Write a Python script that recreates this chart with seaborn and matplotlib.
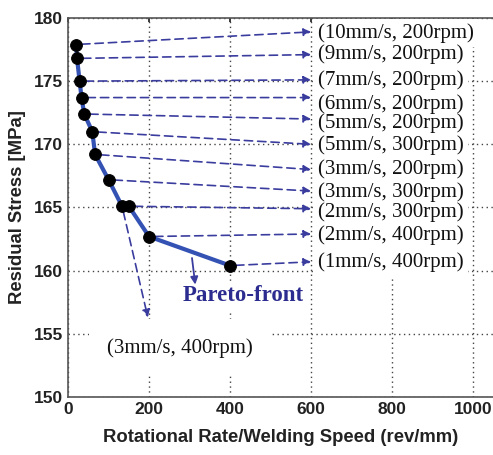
import matplotlib
matplotlib.use('Agg')
import matplotlib.pyplot as plt
import seaborn as sns
import pandas as pd

# ---- data ----
ratio = [20.0, 22.2, 28.6, 33.3, 40.0, 60.0, 66.7, 100.0, 133.3, 150.0, 200.0, 400.0]
stress = [177.9, 176.8, 175.0, 173.7, 172.4, 171.0, 169.2, 167.2, 165.1, 165.1, 162.7, 160.4]
labels = ['(10mm/s, 200rpm)', '(9mm/s, 200rpm)', '(7mm/s, 200rpm)', '(6mm/s, 200rpm)',
          '(5mm/s, 200rpm)', '(5mm/s, 300rpm)', '(3mm/s, 200rpm)', '(3mm/s, 300rpm)',
          '(3mm/s, 400rpm)', '(2mm/s, 300rpm)', '(2mm/s, 400rpm)', '(1mm/s, 400rpm)']
arrow_end_x = [600, 600, 600, 600, 600, 600, 600, 600, 197, 600, 600, 600]
arrow_end_y = [178.9, 177.1, 175.1, 173.7, 172.0, 170.0, 168.0, 166.3, 156.3, 164.9, 162.9, 160.7]
label_x = [618, 618, 618, 618, 618, 618, 618, 618, 277, 618, 618, 618]
label_y = [178.8, 177.1, 175.1, 173.2, 171.7, 169.9, 168.0, 166.2, 153.9, 164.6, 162.8, 160.7]
pareto_text = 'Pareto-front'
pareto_xy = (432, 158.0)
pareto_arrow = [(306, 161.0), (314, 158.9)]
xticks = [0, 200, 400, 600, 800, 1000]
yticks = [150, 155, 160, 165, 170, 175, 180]

df = pd.DataFrame({'ratio': ratio, 'stress': stress})

sns.set_theme(style='white')
plt.rcParams['font.family'] = ['Liberation Sans', 'DejaVu Sans']

fig = plt.figure(figsize=(4.93, 4.55), dpi=100)
ax = fig.add_axes([0.138, 0.1275, 0.862, 0.833])

line_c = '#3452b4'
arr_c = '#3a3c9e'

sns.lineplot(data=df, x='ratio', y='stress', ax=ax, color=line_c, lw=3.0,
             sort=True, zorder=5, estimator=None)
sns.scatterplot(data=df, x='ratio', y='stress', ax=ax, color='black', s=72,
                edgecolor='black', zorder=6)

serif = ['Liberation Serif', 'DejaVu Serif']
for i in range(len(ratio)):
    ax.annotate('', xy=(arrow_end_x[i], arrow_end_y[i]), xytext=(ratio[i], stress[i]),
                arrowprops=dict(arrowstyle='-|>', color=arr_c, lw=1.2,
                                ls=(0, (5, 3)), shrinkA=4, shrinkB=0,
                                mutation_scale=11),
                zorder=4)
    ha = 'left' if arrow_end_x[i] == 600 else 'center'
    pad = 0.2 if ha == 'left' else 0.9
    # white background box drawn underneath all label texts
    ax.text(label_x[i], label_y[i], labels[i], ha=ha, va='center',
            fontsize=15, family=serif, color=(0, 0, 0, 0), zorder=2.5,
            bbox=dict(facecolor='white', edgecolor='none', boxstyle=f'square,pad={pad}'))
    ax.text(label_x[i], label_y[i], labels[i], ha=ha, va='center',
            fontsize=15, family=serif, color='#111111', zorder=3)

ax.annotate('', xy=pareto_arrow[1], xytext=pareto_arrow[0],
            arrowprops=dict(arrowstyle='-|>', color=arr_c, lw=1.3,
                            shrinkA=0, shrinkB=0, mutation_scale=11), zorder=4)
ax.text(pareto_xy[0], pareto_xy[1], pareto_text, ha='center', va='center',
        fontsize=16.5, family=serif, color='#2c2c90', fontweight='bold', zorder=3,
        bbox=dict(facecolor='white', edgecolor='none', boxstyle='square,pad=0.2'))

ax.set_xlim(0, 1049)
ax.set_ylim(150, 180)
ax.set_xticks(xticks)
ax.set_yticks(yticks)
ax.grid(True, linestyle=(0, (1, 2.5)), color='#444444', lw=1.0)
ax.set_axisbelow(True)
ax.tick_params(direction='in', length=3, top=True, labelsize=12.5, colors='#222222')
for t in ax.get_xticklabels() + ax.get_yticklabels():
    t.set_fontweight('bold')
for s in ['left', 'bottom', 'top']:
    ax.spines[s].set_color('#555555')
    ax.spines[s].set_linewidth(1.2)
ax.spines['right'].set_visible(False)
ax.set_xlabel('Rotational Rate/Welding Speed (rev/mm)', fontsize=13.3, fontweight='bold',
              color='#222222', labelpad=9)
ax.set_ylabel('Residual Stress [MPa]', fontsize=13.3, fontweight='bold',
              color='#222222', labelpad=6)

fig.savefig('out.png', dpi=100)
